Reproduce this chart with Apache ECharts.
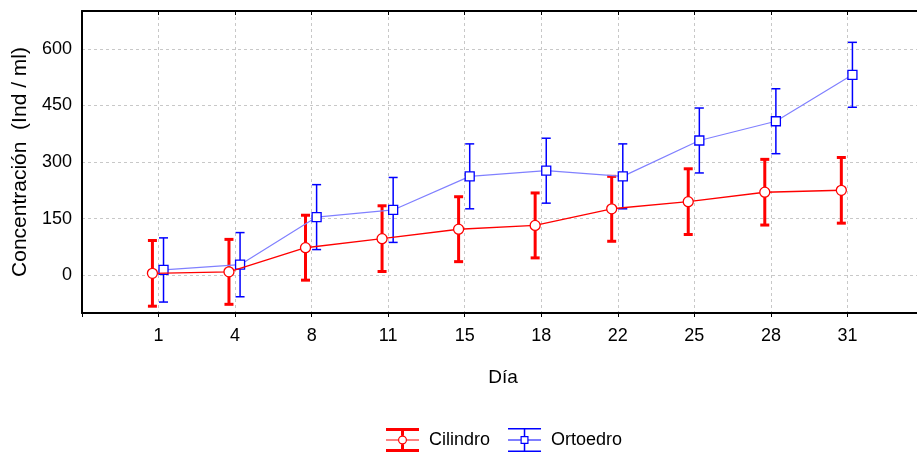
<!DOCTYPE html>
<html><head><meta charset="utf-8">
<script src="https://cdn.jsdelivr.net/npm/echarts@6/dist/echarts.min.js"></script>
<style>html,body{margin:0;padding:0;background:#fff}#c{width:917px;height:452px}</style>
</head><body><div id="c"></div>
<script>
const days = ['1', '4', '8', '11', '15', '18', '22', '25', '28', '31'];
const cilindroMean = [5, 9, 73, 97, 122, 132, 176, 195, 220, 225];
const cilindroErr  = [87, 86, 86, 87, 86, 86, 86, 87, 87, 87];
const ortoedroMean = [14, 28, 154, 173, 262, 277, 262, 357, 408, 531];
const ortoedroErr  = [85, 85, 86, 86, 86, 86, 86, 86, 86, 86];
const yTicks = [0, 150, 300, 450, 600];

const FONT = '"Liberation Sans", Arial, sans-serif';
const RED = '#ff0000', BLUE = '#0000ff', LIGHTBLUE = '#8080ff';
const OFF_C = -0.08, OFF_O = 0.065;

const redIcon = 'path://M0 0H33V3H0Z M0 21H33V24H0Z M15 3H18V7.5H15Z M15 16.5H18V21H15Z M0 11.5H12V12.5H0Z M21 11.5H33V12.5H21Z ' +
  'M12 12A4.5 4.5 0 1 0 21 12A4.5 4.5 0 1 0 12 12Z M13.2 12A3.3 3.3 0 1 1 19.8 12A3.3 3.3 0 1 1 13.2 12Z';
const blueIcon = 'path://M0 0H33V1.5H0Z M0 22.5H33V24H0Z M15.75 1.5H17.25V8H15.75Z M15.75 16H17.25V22.5H15.75Z M0 11.5H12.5V12.5H0Z M20.5 11.5H33V12.5H20.5Z ' +
  'M12.5 8H20.5V16H12.5Z M13.7 9.2V14.8H19.3V9.2Z';

function errBarSeries(name, mean, err, off, color, lw, capHalf) {
  return {
    type: 'custom', name: name, silent: true, z: 2,
    itemStyle: { color: color },
    data: mean.map((m, i) => [i + off, m - err[i], m + err[i]]),
    encode: { x: 0, y: [1, 2] },
    renderItem: function (params, api) {
      const x = api.value(0);
      const lo = api.coord([x, api.value(1)]);
      const hi = api.coord([x, api.value(2)]);
      const style = { stroke: color, lineWidth: lw, fill: null };
      return { type: 'group', children: [
        { type: 'line', shape: { x1: lo[0], y1: lo[1], x2: hi[0], y2: hi[1] }, style: style },
        { type: 'line', shape: { x1: lo[0] - capHalf, y1: lo[1], x2: lo[0] + capHalf, y2: lo[1] }, style: style },
        { type: 'line', shape: { x1: hi[0] - capHalf, y1: hi[1], x2: hi[0] + capHalf, y2: hi[1] }, style: style }
      ]};
    }
  };
}

const chart = echarts.init(document.getElementById('c'), null, { renderer: 'canvas' });
chart.setOption({
  animation: false,
  backgroundColor: '#ffffff',
  textStyle: { fontFamily: FONT, color: '#000' },
  grid: { left: 82, right: -7, top: 11, bottom: 139, containLabel: false, outerBoundsMode: 'none' },
  legend: {
    left: 381, top: 423, itemGap: 18, itemWidth: 33, itemHeight: 24,
    textStyle: { fontFamily: FONT, fontSize: 18, color: '#000', padding: [0, 0, 0, 5] },
    data: [
      { name: 'Cilindro', icon: redIcon, itemStyle: { color: RED, borderWidth: 0 } },
      { name: 'Ortoedro', icon: blueIcon, itemStyle: { color: BLUE, borderWidth: 0 } }
    ]
  },
  xAxis: [{
    type: 'value', position: 'bottom', min: -1, max: 10, interval: 1,
    name: 'Día', nameLocation: 'middle', nameGap: 55,
    nameTextStyle: { fontFamily: FONT, fontSize: 19, color: '#000' },
    axisLine: { show: true, onZero: false, lineStyle: { color: '#000', width: 2 } },
    axisTick: { show: true, inside: false, length: 4, lineStyle: { color: '#000', width: 1 } },
    axisLabel: { margin: 14, fontFamily: FONT, fontSize: 18, color: '#000',
      formatter: function (v) { return days[v] !== undefined ? days[v] : ''; } },
    splitLine: { show: true, lineStyle: { color: '#c8c8c8', type: [3, 3], width: 1 } }
  }, {
    type: 'value', position: 'top', min: -1, max: 10, interval: 1,
    axisLine: { show: true, onZero: false, lineStyle: { color: '#000', width: 2 } },
    axisTick: { show: true, inside: true, length: 4, lineStyle: { color: '#000', width: 1 } },
    axisLabel: { show: false },
    splitLine: { show: false }
  }],
  yAxis: {
    type: 'value', min: -100, max: 700,
    name: 'Concentración  (Ind / ml)', nameLocation: 'middle', nameGap: 49,
    nameTextStyle: { fontFamily: FONT, fontSize: 21, color: '#000' },
    axisLine: { show: true, onZero: false, lineStyle: { color: '#000', width: 2 } },
    axisTick: { show: false, customValues: yTicks },
    axisLabel: { margin: 10, fontFamily: FONT, fontSize: 18, color: '#000', customValues: yTicks },
    splitLine: { show: true, lineStyle: { color: '#c8c8c8', type: [3, 3], width: 1 } }
  },
  series: [
    errBarSeries('Ortoedro', ortoedroMean, ortoedroErr, OFF_O, BLUE, 1.5, 4.5),
    errBarSeries('Cilindro', cilindroMean, cilindroErr, OFF_C, RED, 3, 4.5),
    {
      type: 'line', name: 'Ortoedro (media)',
      data: ortoedroMean.map((v, i) => [i + OFF_O, v]),
      symbol: 'rect', symbolSize: 9, showSymbol: true,
      lineStyle: { color: LIGHTBLUE, width: 1.2 },
      itemStyle: { color: '#ffffff', borderColor: BLUE, borderWidth: 1.3 },
      z: 3
    },
    {
      type: 'line', name: 'Cilindro (media)',
      data: cilindroMean.map((v, i) => [i + OFF_C, v]),
      symbol: 'circle', symbolSize: 10, showSymbol: true,
      lineStyle: { color: RED, width: 1.4 },
      itemStyle: { color: '#ffffff', borderColor: RED, borderWidth: 1.3 },
      z: 4
    }
  ]
});
</script>
</body></html>
